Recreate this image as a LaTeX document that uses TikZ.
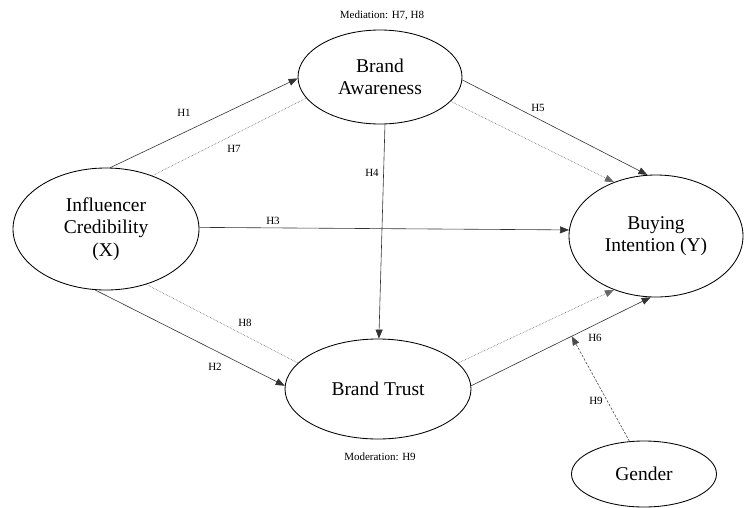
\documentclass[tikz,border=0pt]{standalone}
\usepackage{fontspec}
\setmainfont{Liberation Serif}
\usetikzlibrary{shapes.geometric,arrows.meta}
\begin{document}
\begin{tikzpicture}[x=1pt,y=-1pt,
  ell/.style={draw, ellipse, inner sep=0pt, line width=0.85pt, align=center,
    font=\fontsize{19.5}{22.5}\selectfont},
  lbl/.style={font=\fontsize{11}{13}\selectfont, inner sep=0pt},
  conn/.style={draw=black!80, line width=0.6pt},
  dotconn/.style={draw=black!60, line width=0.6pt, densely dotted},
  dashconn/.style={draw=black!70, line width=0.6pt, dash pattern=on 2.5pt off 1.5pt},
  tip/.style={-{Triangle[length=9pt,width=7pt]}}]
\useasboundingbox (0,0) rectangle (745,507);

\node[ell, minimum width=186pt, minimum height=122pt] (infl) at (106,229) {Influencer\\Credibility\\(X)};
\node[ell, minimum width=164pt, minimum height=94pt] (ba) at (380,77) {Brand\\Awareness};
\node[ell, minimum width=174pt, minimum height=122pt] (bi) at (656,236) {Buying\\Intention (Y)};
\node[ell, minimum width=186pt, minimum height=100pt] (bt) at (378,389) {Brand Trust};
\node[ell, minimum width=145pt, minimum height=66pt] (gen) at (644,474) {Gender};

\node[lbl] (med) at (382,16) {Mediation: H7, H8};
\node[lbl] (mod) at (380,457) {Moderation: H9};

% H1
\draw[conn, tip] (infl.86) -- (ba.181);
% H7 (mediation path)
\draw[dotconn] (infl.49) -- (ba.196.6);
% H5
\draw[conn, tip] (ba.-2) -- (bi.98.4);
% mediation from BA to BI
\draw[dotconn, tip] (ba.-19.4) -- (bi.128.7);
% H3
\draw[conn, tip] (infl.1) -- (bi.176);
% H4
\draw[conn, tip] (ba.-84) -- (bt.89);
% H2
\draw[conn, tip] (infl.260.7) -- (bt.178.8);
% H8 (mediation path)
\draw[dotconn] (infl.-54) -- (bt.162);
% mediation from BT to BI
\draw[dotconn, tip] (bt.18.2) -- (bi.232);
% H6
\draw[conn, tip] (bt.2) -- (bi.265) coordinate[pos=0.56] (mp);
% H9 (moderation)
\draw[dashconn, tip] (gen.114) -- (mp);

\node[lbl] (h1) at (184,113) {H1};
\node[lbl] (h7) at (234,149) {H7};
\node[lbl] (h5) at (538,108) {H5};
\node[lbl] (h3) at (273,221) {H3};
\node[lbl] (h4) at (372,173) {H4};
\node[lbl] (h2) at (215,367) {H2};
\node[lbl] (h8) at (245,323) {H8};
\node[lbl] (h6) at (595,338) {H6};
\node[lbl] (h9) at (596,401) {H9};
\end{tikzpicture}
\end{document}
